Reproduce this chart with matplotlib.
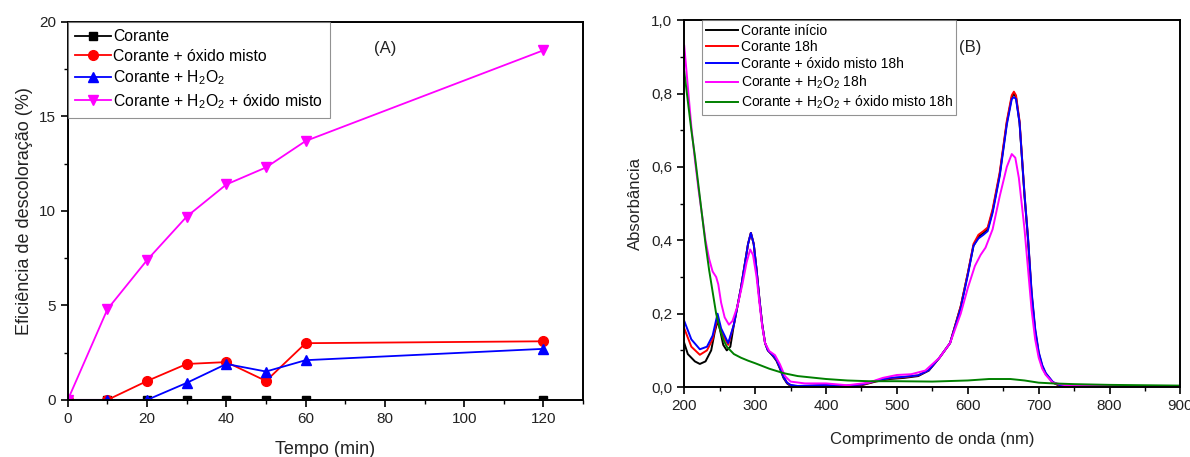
import matplotlib
matplotlib.use("Agg")
import matplotlib.pyplot as plt
from matplotlib.ticker import MultipleLocator, FuncFormatter

plt.rcParams['font.family'] = ['Liberation Sans', 'DejaVu Sans']
plt.rcParams['mathtext.fontset'] = 'custom'
plt.rcParams['mathtext.rm'] = 'Liberation Sans'
plt.rcParams['mathtext.default'] = 'regular'

# --- Panel A: decolorisation efficiency vs time ---
tempo = [0, 10, 20, 30, 40, 50, 60, 120]
corante = [0, 0, 0, 0, 0, 0, 0, 0]
corante_oxido = [0, 0, 1.0, 1.9, 2.0, 1.0, 3.0, 3.1]
corante_h2o2 = [0, 0, 0, 0.9, 1.9, 1.5, 2.1, 2.7]
corante_h2o2_oxido = [0, 4.8, 7.4, 9.7, 11.4, 12.3, 13.7, 18.5]

# --- Panel B: UV-Vis spectra (wavelength nm, absorbance) ---
wl_ini = [200, 205, 215, 222, 230, 238, 243, 247, 250, 255, 260, 265, 270, 275, 280, 285, 290,
          294, 298, 302, 306, 310, 314, 318, 325, 330, 335, 340, 345, 350, 360, 400, 420, 450,
          470, 490, 510, 530, 545, 560, 575, 590, 600, 608, 615, 622, 628, 635, 645, 655, 662,
          665, 668, 673, 680, 685, 690, 695, 700, 705, 710, 720, 730, 750, 900]
abs_ini = [0.12, 0.09, 0.07, 0.063, 0.07, 0.10, 0.15, 0.18, 0.16, 0.115, 0.10, 0.11, 0.17, 0.22,
           0.27, 0.33, 0.39, 0.42, 0.39, 0.32, 0.24, 0.17, 0.12, 0.10, 0.085, 0.072, 0.05,
           0.025, 0.01, 0.003, 0.0, 0.003, 0.0, 0.005, 0.015, 0.022, 0.025, 0.03, 0.045, 0.08,
           0.12, 0.22, 0.31, 0.385, 0.41, 0.42, 0.43, 0.48, 0.58, 0.72, 0.79, 0.80, 0.79, 0.72,
           0.52, 0.40, 0.25, 0.15, 0.09, 0.055, 0.035, 0.012, 0.003, 0.0, 0.0]

wl_18h = [200, 210, 222, 232, 240, 247, 252, 262, 270, 275, 280, 285, 290, 294, 298, 302, 306,
          310, 314, 318, 325, 330, 335, 340, 345, 350, 360, 400, 420, 450, 470, 490, 510, 530,
          545, 560, 575, 590, 600, 608, 615, 622, 628, 635, 645, 655, 662, 665, 668, 673, 680,
          685, 690, 695, 700, 705, 710, 720, 730, 750, 900]
abs_18h = [0.16, 0.11, 0.088, 0.10, 0.13, 0.19, 0.15, 0.115, 0.17, 0.22, 0.27, 0.33, 0.39, 0.42,
           0.39, 0.32, 0.24, 0.17, 0.12, 0.10, 0.087, 0.075, 0.053, 0.028, 0.012, 0.005, 0.002,
           0.005, 0.002, 0.006, 0.016, 0.024, 0.027, 0.032, 0.046, 0.08, 0.12, 0.22, 0.31,
           0.39, 0.415, 0.425, 0.435, 0.485, 0.585, 0.725, 0.795, 0.805, 0.795, 0.725, 0.525,
           0.405, 0.255, 0.155, 0.093, 0.057, 0.037, 0.013, 0.004, 0.001, 0.0]

wl_oxido = wl_18h
abs_oxido = [0.18, 0.13, 0.103, 0.11, 0.14, 0.20, 0.16, 0.12, 0.17, 0.22, 0.27, 0.33, 0.39, 0.42,
             0.39, 0.32, 0.24, 0.17, 0.12, 0.10, 0.087, 0.075, 0.053, 0.028, 0.012, 0.006,
             0.003, 0.006, 0.003, 0.007, 0.017, 0.025, 0.028, 0.032, 0.046, 0.08, 0.12, 0.215,
             0.305, 0.385, 0.405, 0.415, 0.425, 0.475, 0.575, 0.715, 0.785, 0.79, 0.785, 0.72,
             0.525, 0.405, 0.26, 0.16, 0.096, 0.06, 0.038, 0.014, 0.005, 0.002, 0.001]

wl_h2o2 = [200, 205, 210, 215, 220, 225, 230, 235, 240, 245, 248, 252, 257, 263, 268, 275, 282,
           288, 293, 297, 302, 306, 310, 314, 320, 328, 335, 342, 350, 370, 400, 430, 460, 480,
           500, 520, 540, 560, 575, 590, 600, 610, 618, 625, 635, 645, 655, 662, 667, 672, 680,
           685, 690, 695, 700, 705, 710, 720, 740, 800, 900]
abs_h2o2 = [0.93, 0.82, 0.71, 0.62, 0.54, 0.47, 0.40, 0.35, 0.315, 0.30, 0.28, 0.23, 0.19, 0.17,
            0.18, 0.22, 0.28, 0.34, 0.375, 0.36, 0.30, 0.23, 0.165, 0.12, 0.098, 0.087, 0.062,
            0.03, 0.015, 0.01, 0.01, 0.005, 0.012, 0.025, 0.033, 0.035, 0.045, 0.08, 0.12, 0.20,
            0.27, 0.33, 0.36, 0.38, 0.43, 0.52, 0.60, 0.635, 0.625, 0.57, 0.43, 0.32, 0.21,
            0.13, 0.08, 0.05, 0.033, 0.012, 0.004, 0.003, 0.002]

wl_h2o2_oxido = [200, 205, 210, 215, 220, 225, 230, 235, 240, 245, 250, 255, 260, 270, 280, 290,
                 300, 320, 340, 360, 380, 400, 430, 460, 500, 550, 600, 630, 660, 680, 700, 720,
                 750, 800, 850, 900]
abs_h2o2_oxido = [0.86, 0.78, 0.70, 0.63, 0.55, 0.47, 0.39, 0.32, 0.26, 0.20, 0.16, 0.13, 0.11,
                  0.09, 0.08, 0.072, 0.065, 0.05, 0.038, 0.03, 0.026, 0.022, 0.018, 0.016, 0.016,
                  0.015, 0.018, 0.022, 0.022, 0.018, 0.012, 0.01, 0.008, 0.006, 0.005, 0.004]

text_color = '#222222'

fig = plt.figure(figsize=(11.9, 4.57), dpi=100)
axA = fig.add_axes([0.057, 0.125, 0.433, 0.827])
axB = fig.add_axes([0.575, 0.153, 0.417, 0.803])

# Panel A
axA.plot(tempo, corante, color='black', marker='s', markersize=6, lw=1.3, label='Corante')
axA.plot(tempo, corante_oxido, color='red', marker='o', markersize=7, lw=1.3,
         label='Corante + óxido misto')
axA.plot(tempo, corante_h2o2, color='blue', marker='^', markersize=7, lw=1.3,
         label='Corante + H$_2$O$_2$')
axA.plot(tempo, corante_h2o2_oxido, color='magenta', marker='v', markersize=7, lw=1.3,
         label='Corante + H$_2$O$_2$ + óxido misto')
axA.set_xlim(0, 130)
axA.set_ylim(0, 20)
axA.xaxis.set_major_locator(MultipleLocator(20))
axA.xaxis.set_minor_locator(MultipleLocator(10))
axA.yaxis.set_major_locator(MultipleLocator(5))
axA.yaxis.set_minor_locator(MultipleLocator(2.5))
axA.set_xlabel('Tempo (min)', fontsize=13, color=text_color, labelpad=11)
axA.set_ylabel('Eficiência de descoloração (%)', fontsize=13, color=text_color, labelpad=4)
axA.text(80, 18.6, '(A)', fontsize=12, color=text_color, ha='center', va='center')
legA = axA.legend(loc='upper left', fontsize=11.3, frameon=True, fancybox=False,
                  borderaxespad=0.0, handlelength=2.3, handletextpad=0.15, labelspacing=0.3,
                  borderpad=0.45)
legA.get_frame().set_edgecolor('#777777')
legA.get_frame().set_linewidth(0.8)

# Panel B
axB.plot(wl_ini, abs_ini, color='black', lw=1.4, label='Corante início')
axB.plot(wl_18h, abs_18h, color='red', lw=1.4, label='Corante 18h')
axB.plot(wl_oxido, abs_oxido, color='blue', lw=1.4, label='Corante + óxido misto 18h')
axB.plot(wl_h2o2, abs_h2o2, color='magenta', lw=1.4, label='Corante + H$_2$O$_2$ 18h')
axB.plot(wl_h2o2_oxido, abs_h2o2_oxido, color='green', lw=1.4,
         label='Corante + H$_2$O$_2$ + óxido misto 18h')
axB.set_xlim(200, 900)
axB.set_ylim(0, 1.0)
axB.xaxis.set_major_locator(MultipleLocator(100))
axB.xaxis.set_minor_locator(MultipleLocator(50))
axB.yaxis.set_major_locator(MultipleLocator(0.2))
axB.yaxis.set_minor_locator(MultipleLocator(0.1))
axB.yaxis.set_major_formatter(FuncFormatter(lambda v, p: f"{v:.1f}".replace('.', ',')))
axB.set_xlabel('Comprimento de onda (nm)', fontsize=12, color=text_color, labelpad=14)
axB.set_ylabel('Absorbância', fontsize=12, color=text_color, labelpad=6)
axB.text(603, 0.925, '(B)', fontsize=12, color=text_color, ha='center', va='center')
legB = axB.legend(loc='upper left', bbox_to_anchor=(0.036, 1.0), fontsize=10, frameon=True,
                  fancybox=False, borderaxespad=0.0, handlelength=2.3, handletextpad=0.25,
                  labelspacing=0.2, borderpad=0.25)
legB.get_frame().set_edgecolor('#777777')
legB.get_frame().set_linewidth(0.8)

for ax in (axA, axB):
    ax.tick_params(which='both', direction='out', top=False, right=False,
                   labelsize=11, labelcolor=text_color)
    ax.tick_params(which='major', length=5, width=1.2)
    ax.tick_params(which='minor', length=3, width=1.0)
    for s in ax.spines.values():
        s.set_linewidth(1.4)

fig.savefig('out.png', dpi=100)
